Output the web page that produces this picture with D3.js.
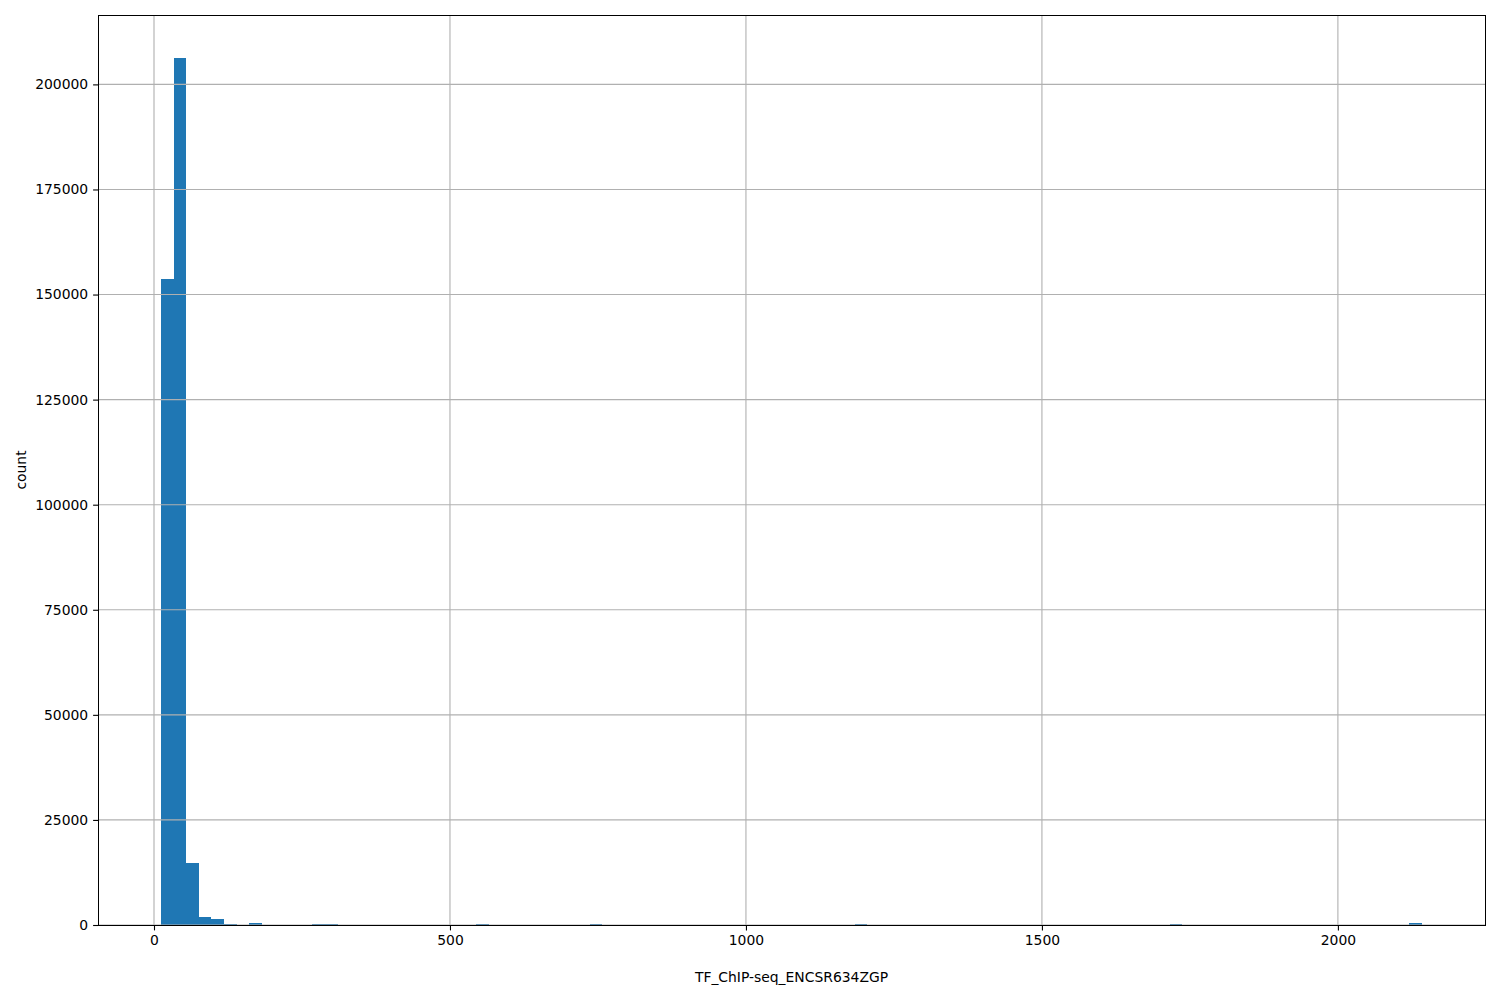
<!DOCTYPE html>
<html>
<head>
<meta charset="utf-8">
<script src="https://cdn.jsdelivr.net/npm/d3@7"></script>
<style>
  html, body { margin: 0; padding: 0; background: #fff; }
  svg { display: block; }
  text { font-family: "DejaVu Sans", sans-serif; }
</style>
</head>
<body>
<svg id="chart" width="1500" height="1000"></svg>
<script>
// ---- data ----
const xLabel = "TF_ChIP-seq_ENCSR634ZGP";
const yLabel = "count";
const dataMin = 11.9;
const dataMax = 2142;
const binCounts = [
  153600, 206200, 14700, 1900, 1430, 300, 0, 480, 0, 0,
  0, 0, 250, 250, 0, 0, 0, 0, 0, 0,
  0, 0, 0, 0, 0, 240, 0, 0, 0, 0,
  0, 0, 0, 0, 240, 0, 0, 0, 0, 0,
  0, 0, 0, 0, 0, 0, 0, 0, 0, 0,
  0, 0, 0, 0, 0, 240, 0, 0, 0, 0,
  0, 0, 0, 0, 0, 0, 0, 0, 0, 0,
  0, 0, 0, 0, 0, 0, 0, 0, 0, 0,
  240, 0, 0, 0, 0, 0, 0, 0, 0, 0,
  0, 0, 0, 0, 0, 0, 0, 0, 0, 550
];
const xTicks = [0, 500, 1000, 1500, 2000];
const yTicks = [0, 25000, 50000, 75000, 100000, 125000, 150000, 175000, 200000];

// ---- layout ----
const svg = d3.select("#chart");
const L = 98, R = 1485, T = 15, B = 925;
const nBins = binCounts.length;
const binW = (dataMax - dataMin) / nBins;
const bins = binCounts.map((c, i) => ({x0: dataMin + i * binW, x1: dataMin + (i + 1) * binW, count: c}));

const span = dataMax - dataMin;
const x = d3.scaleLinear().domain([dataMin - 0.05 * span, dataMax + 0.05 * span]).range([L, R]);
const yMax = d3.max(binCounts);
const y = d3.scaleLinear().domain([0, yMax * 1.05]).range([B, T]);

const fontSize = 13.9;
const gridColor = "#b0b0b0";

// vertical grid
svg.append("g").selectAll("line").data(xTicks).join("line")
  .attr("x1", d => x(d)).attr("x2", d => x(d))
  .attr("y1", T).attr("y2", B)
  .attr("stroke", gridColor).attr("stroke-width", 1.1);

// bars
svg.append("g").attr("shape-rendering", "crispEdges")
  .selectAll("rect").data(bins.filter(b => b.count > 0)).join("rect")
  .attr("x", d => x(d.x0))
  .attr("width", d => x(d.x1) - x(d.x0))
  .attr("y", d => y(d.count))
  .attr("height", d => Math.max(1, B - y(d.count)))
  .attr("fill", "#1f77b4");

// horizontal grid (drawn over bars)
svg.append("g").selectAll("line").data(yTicks).join("line")
  .attr("x1", L).attr("x2", R)
  .attr("y1", d => y(d)).attr("y2", d => y(d))
  .attr("stroke", gridColor).attr("stroke-width", 1.1);

// axes
const xAxis = d3.axisBottom(x).tickValues(xTicks).tickSize(4.9).tickPadding(4.9).tickFormat(d3.format("d"));
const gx = svg.append("g").attr("transform", `translate(0,${B + 0.5})`).call(xAxis);
const yAxis = d3.axisLeft(y).tickValues(yTicks).tickSize(4.9).tickPadding(4.9).tickFormat(d3.format("d"));
const gy = svg.append("g").attr("transform", `translate(${L},0)`).call(yAxis);
[gx, gy].forEach(g => {
  g.select(".domain").remove();
  g.selectAll(".tick line").attr("stroke", "#000").attr("stroke-width", 1.1);
  g.selectAll(".tick text").attr("fill", "#000").style("font-size", fontSize + "px")
   .style("font-family", "'DejaVu Sans', sans-serif");
});

// frame (pixel-aligned so small bars stay visible just above the bottom spine)
svg.append("rect").attr("x", L + 0.5).attr("y", T + 0.5).attr("width", R - L).attr("height", B - T)
  .attr("fill", "none").attr("stroke", "#000").attr("stroke-width", 1);

// labels
svg.append("text").attr("x", (L + R) / 2).attr("y", 982)
  .attr("text-anchor", "middle").style("font-size", fontSize + "px").text(xLabel);
svg.append("text").attr("transform", `translate(26,${(T + B) / 2}) rotate(-90)`)
  .attr("text-anchor", "middle").style("font-size", fontSize + "px").text(yLabel);
</script>
</body>
</html>
